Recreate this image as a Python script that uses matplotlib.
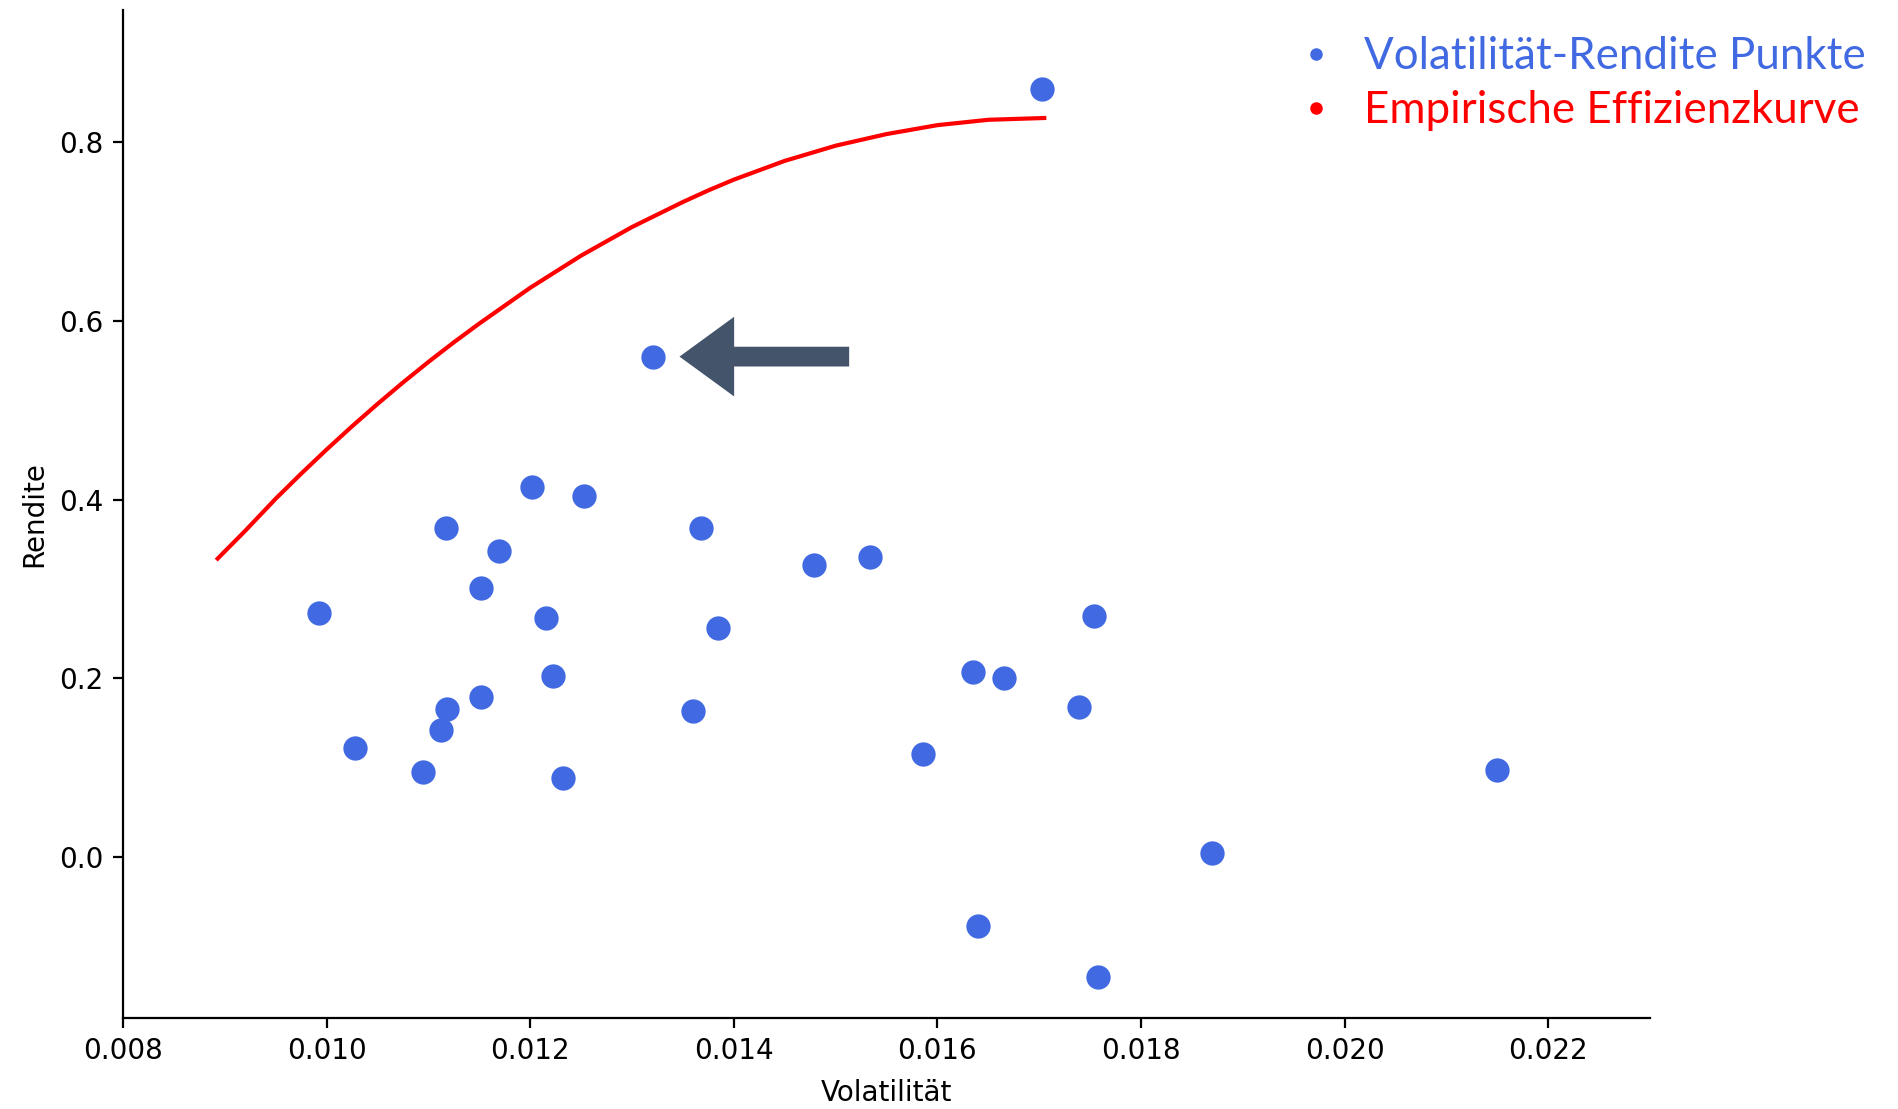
import numpy as np
import matplotlib
matplotlib.use("Agg")
import matplotlib.pyplot as plt
from matplotlib.lines import Line2D

# Volatility / return points
volatility = [0.01703, 0.01321, 0.01202, 0.01253, 0.01117, 0.01368, 0.01169,
              0.01152, 0.00993, 0.01216, 0.01479, 0.01534, 0.01385, 0.01754,
              0.01222, 0.01635, 0.01665, 0.01152, 0.01118, 0.01360, 0.01739,
              0.01112, 0.01028, 0.01586, 0.01095, 0.01232, 0.02150, 0.01870,
              0.01640, 0.01758]
rendite = [0.860, 0.560, 0.414, 0.404, 0.368, 0.368, 0.343,
           0.301, 0.273, 0.267, 0.327, 0.336, 0.256, 0.270,
           0.203, 0.207, 0.200, 0.179, 0.166, 0.163, 0.168,
           0.142, 0.122, 0.115, 0.095, 0.088, 0.098, 0.005,
           -0.077, -0.134]

curve_vol = [0.00893, 0.00920, 0.0095, 0.00975, 0.0100, 0.01025, 0.0105, 0.01075,
             0.0110, 0.01125, 0.0115, 0.01175, 0.0120, 0.01225, 0.0125, 0.01275,
             0.0130, 0.01325, 0.0135, 0.01375, 0.0140, 0.0145, 0.0150, 0.0155,
             0.0160, 0.0165, 0.01705]
curve_ren = [0.334, 0.365, 0.401, 0.429, 0.456, 0.482, 0.507, 0.531,
             0.554, 0.576, 0.597, 0.617, 0.637, 0.655, 0.673, 0.689,
             0.705, 0.719, 0.733, 0.746, 0.758, 0.779, 0.796, 0.809,
             0.819, 0.825, 0.827]

fig = plt.figure(figsize=(9.49, 5.545), dpi=200)
ax = fig.add_axes([0.0648, 0.0821, 0.8045, 0.909])

ax.scatter(volatility, rendite, s=60, color="royalblue", zorder=3)
ax.plot(curve_vol, curve_ren, color="red", linewidth=1.5)

# arrow pointing at the highlighted point
ax.arrow(0.01512, 0.56, -0.00163, 0, width=0.019, head_width=0.083,
         head_length=0.0005, length_includes_head=True, color="#44546A",
         zorder=4)

ax.set_xlim(0.008, 0.023)
ax.set_ylim(-0.18, 0.948)
ax.set_xticks(np.arange(0.008, 0.0221, 0.002))
ax.set_yticks([0.0, 0.2, 0.4, 0.6, 0.8])
ax.set_xlabel("Volatilität", labelpad=5)
ax.set_ylabel("Rendite")
ax.spines["top"].set_visible(False)
ax.spines["right"].set_visible(False)

handles = [Line2D([], [], marker="o", linestyle="", color="royalblue", markersize=3.5),
           Line2D([], [], marker="o", linestyle="", color="red", markersize=3.5)]
labels = ["Volatilität-Rendite Punkte", "Empirische Effizienzkurve"]
fig.legend(handles, labels, loc="upper right", bbox_to_anchor=(1.004, 1.003),
           frameon=False, handlelength=1.2, handletextpad=0.5,
           labelcolor=["royalblue", "red"],
           prop={"family": "Lato", "size": 15.8}, labelspacing=0.3)

fig.savefig("out.png", dpi=200)
